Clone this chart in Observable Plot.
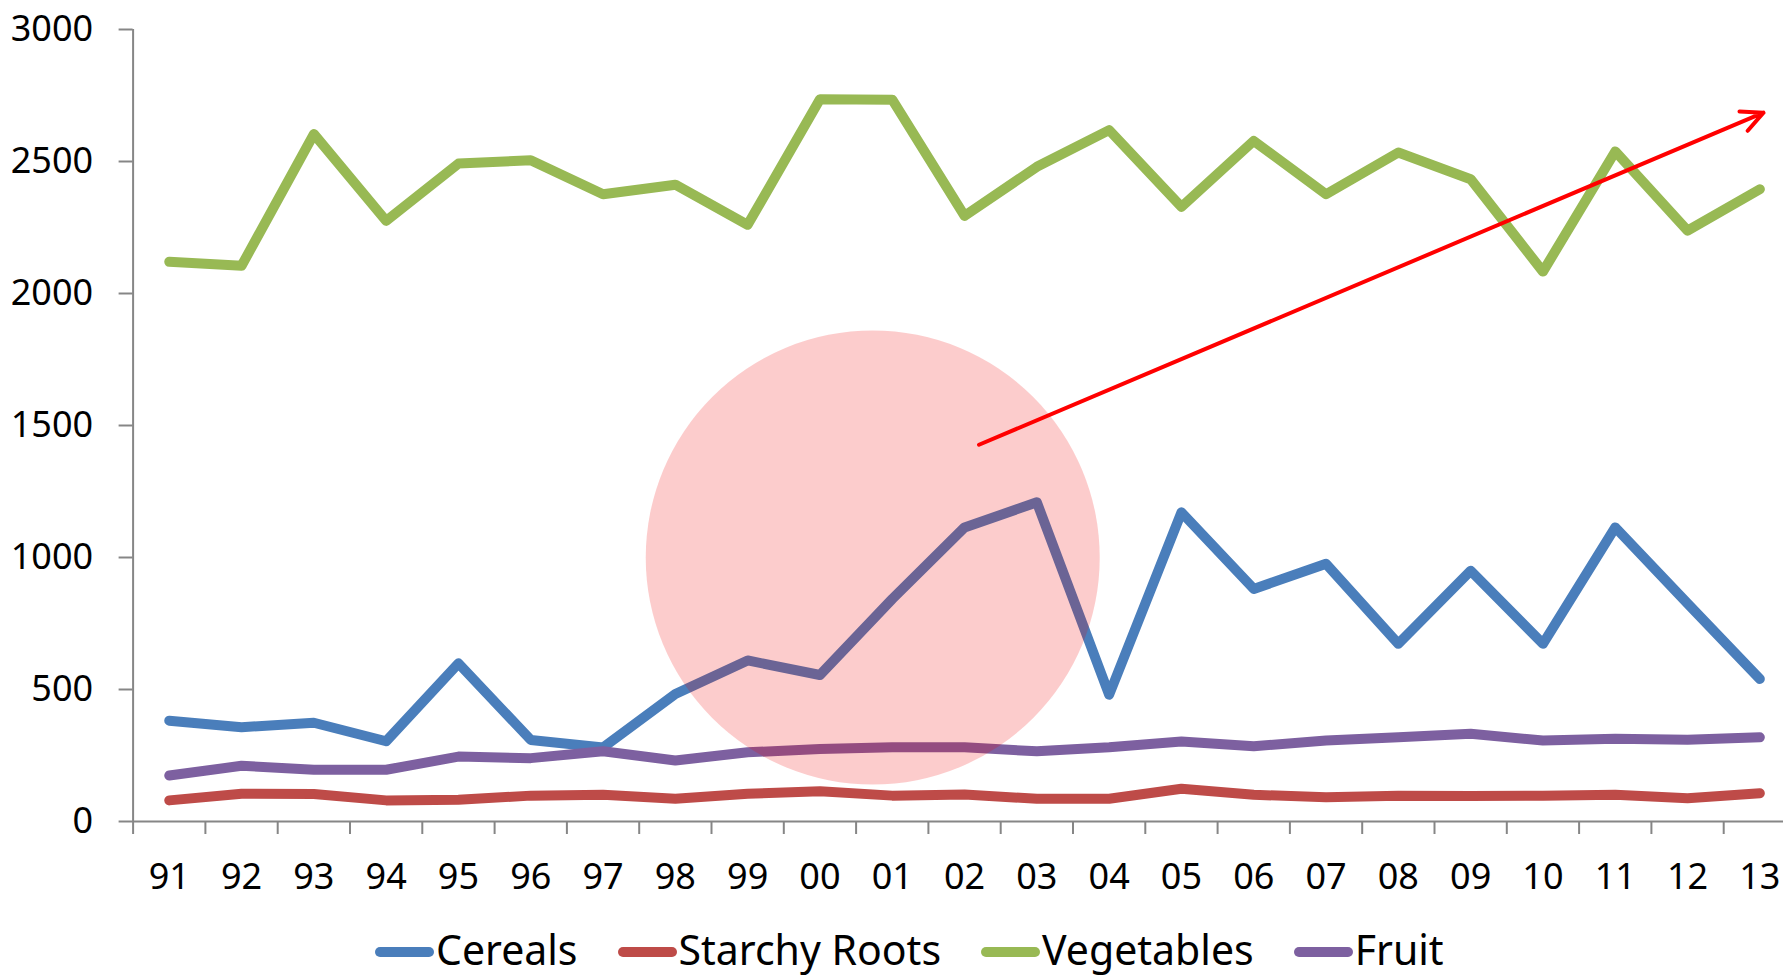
<!DOCTYPE html>
<html>
<head>
<meta charset="utf-8">
<script src="https://cdn.jsdelivr.net/npm/d3@7"></script>
<script src="https://cdn.jsdelivr.net/npm/@observablehq/plot@0.6"></script>
<style>
  html, body { margin: 0; padding: 0; background: #fff; overflow: hidden; }
  #wrap { position: relative; width: 1783px; height: 975px; overflow: hidden; }
  #legend {
    position: absolute; left: 375px; top: 921px;
    display: flex; align-items: center; gap: 40px;
    font-family: "Noto Sans", sans-serif; font-size: 41px; color: #000;
    white-space: nowrap;
  }
  #legend .item { display: flex; align-items: center; }
  #legend svg { position: relative; top: 3px; margin-right: 2px; }
</style>
</head>
<body>
<div id="wrap"><div id="chart"></div><div id="legend"></div></div>
<script>
// Years (two-digit labels), 1991–2013
const years = ["91","92","93","94","95","96","97","98","99","00","01","02","03","04","05","06","07","08","09","10","11","12","13"];

// Series values
const cereals    = [382, 357, 374, 304, 599, 309, 280, 483, 610, 555, 843, 1114, 1209, 480, 1171, 881, 976, 673, 950, 673, 1114, 826, 540];
const roots      = [80, 105, 104, 80, 82, 98, 101, 86, 105, 115, 98, 102, 86, 86, 124, 101, 92, 98, 97, 98, 101, 88, 107];
const vegetables = [2120, 2105, 2604, 2275, 2492, 2505, 2376, 2412, 2260, 2736, 2734, 2294, 2480, 2619, 2328, 2578, 2376, 2534, 2433, 2083, 2538, 2238, 2395];
const fruit      = [174, 211, 196, 196, 246, 240, 266, 231, 262, 275, 281, 281, 266, 281, 303, 285, 307, 319, 332, 307, 313, 310, 319];

const seriesNames  = ["Cereals", "Starchy Roots", "Vegetables", "Fruit"];
const seriesColors = ["#4A7EBB", "#BE4B48", "#98B954", "#7D60A0"];
const yTicks = [0, 500, 1000, 1500, 2000, 2500, 3000];

// Highlight circle and trend arrow, in data units (year index, value)
const highlight = [{i: 9.73, v: 1000}];
const trend = [{i1: 11.2, v1: 1427, i2: 22.05, v2: 2685}];

const rows = [];
[cereals, roots, vegetables, fruit].forEach((vals, s) => {
  vals.forEach((v, i) => rows.push({series: seriesNames[s], i, v}));
});

const axisGray = "#868686";
const boundaries = d3.range(years.length + 1).map(k => k - 0.5);

// The last category band runs slightly past the right edge of the page
const chart = Plot.plot({
  width: 1796,
  height: 905,
  marginLeft: 132.6,
  marginRight: 0.5,
  marginTop: 29,
  marginBottom: 84,
  style: {fontFamily: "'Noto Sans', sans-serif", fontSize: "36px", color: "#000", background: "#fff", overflow: "visible", maxWidth: "none"},
  x: {domain: [-0.5, years.length - 0.5], axis: null},
  y: {domain: [0, 3000], axis: null},
  color: {domain: seriesNames, range: seriesColors},
  marks: [
    // axes
    Plot.axisY({ticks: yTicks, tickSize: 14, tickPadding: 26, stroke: axisGray, strokeWidth: 2, fill: "#000", fontSize: 36, tickFormat: d => String(d)}),
    Plot.axisX({ticks: boundaries, tickSize: 13, stroke: axisGray, strokeWidth: 2, tickFormat: () => ""}),
    Plot.axisX({ticks: d3.range(years.length), tickSize: 0, tickPadding: 42, fill: "#000", fontSize: 36, tickFormat: i => years[i]}),
    Plot.ruleX([-0.5], {y1: 0, y2: 3000, stroke: axisGray, strokeWidth: 2}),
    Plot.ruleY([0], {x1: -0.5, x2: years.length - 0.5, stroke: axisGray, strokeWidth: 2}),
    // series
    Plot.line(rows, {x: "i", y: "v", z: "series", stroke: "series", strokeWidth: 10, strokeLinejoin: "round", strokeLinecap: "round"}),
    // highlight
    Plot.dot(highlight, {x: "i", y: "v", r: 227, fill: "rgb(240,0,0)", fillOpacity: 0.2, stroke: "none"}),
    Plot.arrow(trend, {x1: "i1", y1: "v1", x2: "i2", y2: "v2", stroke: "#FF0000", strokeWidth: 4, headLength: 9, headAngle: 52, strokeLinecap: "round"})
  ]
});
document.getElementById("chart").appendChild(chart);

// legend
const legend = document.getElementById("legend");
seriesNames.forEach((name, k) => {
  const item = document.createElement("div");
  item.className = "item";
  item.innerHTML = `<svg width="59" height="12"><line x1="5" y1="6" x2="54" y2="6" stroke="${seriesColors[k]}" stroke-width="10" stroke-linecap="round"/></svg><span>${name}</span>`;
  legend.appendChild(item);
});
</script>
</body>
</html>
